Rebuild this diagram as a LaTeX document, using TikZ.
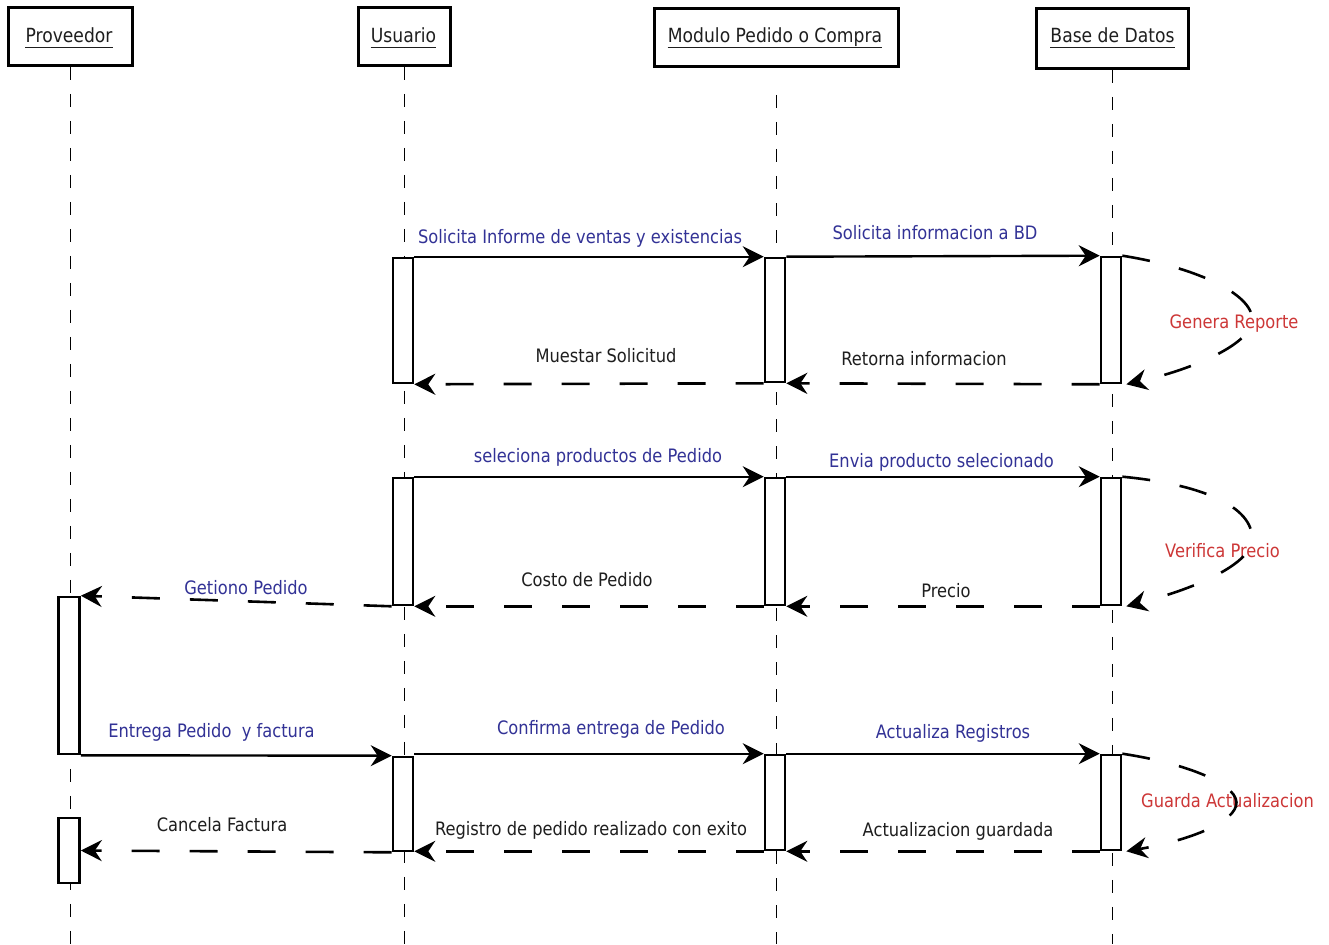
\documentclass[tikz,border=0pt]{standalone}
\usepackage{fontspec}
\setmainfont{DejaVu Sans}[FakeStretch=0.88]
\usetikzlibrary{arrows.meta}
\definecolor{msgblue}{RGB}{50,50,150}
\definecolor{notered}{RGB}{205,55,55}
\definecolor{ink}{RGB}{30,30,30}

\begin{document}
\begin{tikzpicture}[x=1pt,y=-1pt,
  headbox/.style={draw, line width=2.8pt, inner sep=0pt, anchor=north west},
  headtext/.style={font=\fontsize{19.5}{22}\selectfont, text=ink, inner sep=0pt, anchor=base},
  underl/.style={line width=1.4pt, ink},
  life/.style={line width=1.3pt, dash pattern=on 13pt off 14pt},
  act/.style={draw, fill=white, line width=2.6pt, minimum width=20pt, inner sep=0pt},
  bigtip/.style={-{Stealth[length=21pt,width=21pt,inset=7pt]}},
  msgcall/.style={line width=2.4pt, bigtip},
  msgreply/.style={line width=2.6pt, dash pattern=on 28pt off 30pt, bigtip},
  selfloop/.style={line width=2.6pt, dash pattern=on 28pt off 30pt, bigtip},
  bluelbl/.style={font=\fontsize{18.5}{22}\selectfont, text=msgblue, inner sep=0pt, anchor=base},
  blacklbl/.style={font=\fontsize{18.5}{22}\selectfont, text=ink, inner sep=0pt, anchor=base},
  redlbl/.style={font=\fontsize{18.5}{22}\selectfont, text=notered, inner sep=0pt, anchor=base}]

\useasboundingbox[fill=white] (0,0) rectangle (1329,944);

% participant heads
\node[headbox, minimum width=124pt, minimum height=58pt] (hp) at (7,6) {};
\node[headbox, minimum width=92pt, minimum height=58pt] (hu) at (357,6) {};
\node[headbox, minimum width=244pt, minimum height=58pt] (hm) at (653,7) {};
\node[headbox, minimum width=152pt, minimum height=60pt] (hb) at (1035,7) {};

\node[headtext] (tp) at (69,43) {Proveedor};
\node[headtext] (tu) at (403.5,43) {Usuario};
\node[headtext] (tm) at (775,43) {Modulo Pedido o Compra};
\node[headtext] (tb) at (1112.5,43) {Base de Datos};
\foreach \t in {tp,tu,tm,tb}
  \draw[underl] ([yshift=-4.5pt]\t.base west) -- ([yshift=-4.5pt]\t.base east);

% lifelines
\draw[life] (hp.south) -- (hp.south |- 0,944);
\draw[life] (hu.south) -- (hu.south |- 0,944);
\draw[life] (hm.south |- 0,95) -- (hm.south |- 0,944);
\draw[life] (hb.south) -- (hb.south |- 0,944);

% activation bars
\node[act, minimum height=125pt] (u1) at (403,320.5) {};
\node[act, minimum height=124pt] (m1) at (775,320) {};
\node[act, minimum height=126pt] (b1) at (1111,320) {};
\node[act, minimum height=127pt] (u2) at (403,541.5) {};
\node[act, minimum height=127pt] (m2) at (775,541.5) {};
\node[act, minimum height=127pt] (b2) at (1111,541.5) {};
\node[act, minimum height=157pt, minimum width=21pt] (p1) at (69,675.5) {};
\node[act, minimum height=94pt] (u3) at (403,804) {};
\node[act, minimum height=95pt] (m3) at (775,802.5) {};
\node[act, minimum height=95pt] (b3) at (1111,802.5) {};
\node[act, minimum height=65pt, minimum width=21pt] (p2) at (69,850.5) {};

% message labels
\node[bluelbl] at (580,243) {Solicita Informe de ventas y existencias};
\node[bluelbl] at (935,239) {Solicita informacion a BD};
\node[redlbl] at (1234,328) {Genera Reporte};
\node[blacklbl] at (606,362) {Muestar Solicitud};
\node[blacklbl] at (924,365) {Retorna informacion};
\node[bluelbl] at (598,462) {seleciona productos de Pedido};
\node[bluelbl] at (941.5,467) {Envia producto selecionado};
\node[redlbl] at (1222.5,557) {Verifica Precio};
\node[blacklbl] at (587,586) {Costo de Pedido};
\node[blacklbl] at (946,597) {Precio};
\node[bluelbl] at (246,594) {Getiono Pedido};
\node[bluelbl] at (211.5,737) {Entrega Pedido\ \ y factura};
\node[bluelbl] at (611,734) {Confirma entrega de Pedido};
\node[bluelbl] at (953,738) {Actualiza Registros};
\node[redlbl] at (1227.5,807) {Guarda Actualizacion};
\node[blacklbl] at (222,831) {Cancela Factura};
\node[blacklbl] at (591,835) {Registro de pedido realizado con exito};
\node[blacklbl] at (958,836) {Actualizacion guardada};

% first exchange
\draw[msgcall] (u1.north east) -- (m1.north west);
\draw[msgcall] (m1.north east) -- (b1.north west);
\draw[selfloop] (b1.north east) .. controls (1200,268) and (1256,296) .. (1252,322)
  .. controls (1248,346) and (1190,370) .. ([xshift=4pt]b1.south east);
\draw[msgreply] (b1.south west) -- (m1.south east);
\draw[msgreply] (m1.south west) -- (u1.south east);

% second exchange
\draw[msgcall] (u2.north east) -- (m2.north west);
\draw[msgcall] (m2.north east) -- (b2.north west);
\draw[selfloop] (b2.north east) .. controls (1200,484) and (1254,506) .. (1252,540)
  .. controls (1250,566) and (1190,590) .. ([xshift=4pt]b2.south east);
\draw[msgreply] (b2.south west) -- (m2.south east);
\draw[msgreply] (m2.south west) -- (u2.south east);
\draw[msgreply] (u2.south west) -- (p1.north east);

% third exchange
\draw[msgcall] (p1.south east) -- (u3.north west);
\draw[msgcall] (u3.north east |- m3.north) -- (m3.north west);
\draw[msgcall] (m3.north east) -- (b3.north west);
\draw[selfloop] (b3.north east) .. controls (1190,764) and (1242,786) .. (1236,806)
  .. controls (1230,826) and (1180,842) .. ([xshift=4pt]b3.south east);
\draw[msgreply] (b3.south west) -- (m3.south east);
\draw[msgreply] (m3.south west) -- (u3.south east |- m3.south);
\draw[msgreply] (u3.south west) -- (p2.east);

\end{tikzpicture}
\end{document}
